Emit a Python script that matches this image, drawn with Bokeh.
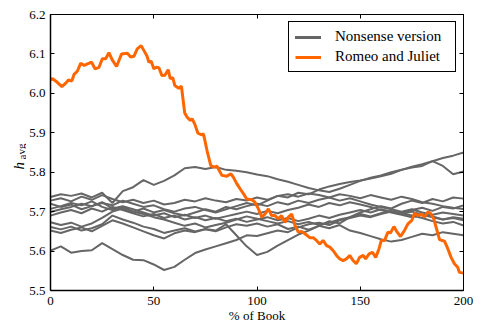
from bokeh.plotting import figure
from bokeh.layouts import row
from bokeh.models import LinearAxis, Range1d, FixedTicker, PrintfTickFormatter, Label
from bokeh.embed import file_html
from bokeh.resources import INLINE

# ---------------- data ----------------
x_nonsense = list(range(0, 201, 5))

nonsense_1 = [5.720, 5.712, 5.718, 5.706, 5.714, 5.722, 5.716, 5.728, 5.720, 5.712, 5.716,
              5.706, 5.700, 5.708, 5.712, 5.704, 5.698, 5.706, 5.714, 5.722, 5.716, 5.728,
              5.740, 5.736, 5.748, 5.744, 5.756, 5.764, 5.770, 5.775, 5.779, 5.784, 5.790,
              5.796, 5.806, 5.814, 5.820, 5.828, 5.836, 5.842, 5.850]
nonsense_2 = [5.737, 5.744, 5.740, 5.746, 5.736, 5.748, 5.722, 5.752, 5.762, 5.780, 5.768,
              5.778, 5.792, 5.810, 5.813, 5.808, 5.813, 5.806, 5.804, 5.800, 5.794, 5.790,
              5.782, 5.776, 5.768, 5.760, 5.754, 5.750, 5.758, 5.768, 5.778, 5.786, 5.792,
              5.800, 5.806, 5.812, 5.816, 5.828, 5.816, 5.795, 5.802]
nonsense_3 = [5.601, 5.612, 5.596, 5.600, 5.602, 5.620, 5.605, 5.590, 5.578, 5.577, 5.566,
              5.552, 5.560, 5.578, 5.595, 5.604, 5.612, 5.620, 5.628, 5.640, 5.638, 5.645,
              5.652, 5.648, 5.660, 5.668, 5.672, 5.666, 5.678, 5.684, 5.690, 5.686, 5.694,
              5.700, 5.696, 5.704, 5.710, 5.702, 5.712, 5.708, 5.716]
nonsense_4 = [5.661, 5.655, 5.662, 5.652, 5.658, 5.668, 5.690, 5.680, 5.672, 5.662, 5.656,
              5.646, 5.652, 5.658, 5.650, 5.656, 5.652, 5.668, 5.640, 5.612, 5.590, 5.598,
              5.614, 5.628, 5.642, 5.652, 5.664, 5.676, 5.670, 5.686, 5.698, 5.706, 5.714,
              5.708, 5.720, 5.728, 5.722, 5.732, 5.726, 5.736, 5.733]
nonsense_5 = [5.652, 5.646, 5.654, 5.660, 5.650, 5.664, 5.678, 5.670, 5.660, 5.650, 5.640,
              5.632, 5.645, 5.652, 5.648, 5.655, 5.650, 5.660, 5.668, 5.664, 5.670, 5.662,
              5.668, 5.656, 5.662, 5.654, 5.664, 5.658, 5.666, 5.652, 5.646, 5.638, 5.630,
              5.624, 5.628, 5.636, 5.644, 5.640, 5.648, 5.644, 5.640]
nonsense_6 = [5.728, 5.734, 5.726, 5.738, 5.730, 5.742, 5.732, 5.724, 5.730, 5.722, 5.728,
              5.718, 5.722, 5.730, 5.726, 5.734, 5.728, 5.724, 5.732, 5.728, 5.736, 5.730,
              5.740, 5.744, 5.738, 5.746, 5.742, 5.736, 5.744, 5.740, 5.734, 5.742, 5.736,
              5.730, 5.738, 5.732, 5.724, 5.720, 5.714, 5.710, 5.707]
nonsense_7 = [5.707, 5.714, 5.722, 5.716, 5.726, 5.712, 5.704, 5.712, 5.700, 5.708, 5.698,
              5.704, 5.696, 5.690, 5.698, 5.706, 5.700, 5.712, 5.706, 5.714, 5.720, 5.714,
              5.724, 5.718, 5.728, 5.722, 5.730, 5.736, 5.728, 5.734, 5.726, 5.718, 5.712,
              5.706, 5.700, 5.706, 5.698, 5.692, 5.698, 5.694, 5.690]
nonsense_8 = [5.699, 5.706, 5.712, 5.720, 5.714, 5.724, 5.708, 5.714, 5.706, 5.698, 5.690,
              5.696, 5.686, 5.692, 5.684, 5.690, 5.682, 5.688, 5.694, 5.700, 5.694, 5.702,
              5.696, 5.704, 5.710, 5.718, 5.712, 5.722, 5.716, 5.724, 5.718, 5.712, 5.704,
              5.698, 5.692, 5.686, 5.692, 5.688, 5.680, 5.686, 5.682]
nonsense_9 = [5.690, 5.698, 5.704, 5.696, 5.708, 5.700, 5.712, 5.704, 5.696, 5.688, 5.694,
              5.684, 5.690, 5.680, 5.686, 5.678, 5.684, 5.676, 5.682, 5.674, 5.680, 5.686,
              5.678, 5.684, 5.676, 5.682, 5.690, 5.684, 5.692, 5.698, 5.704, 5.698, 5.706,
              5.700, 5.694, 5.700, 5.692, 5.686, 5.680, 5.684, 5.678]
nonsense_10 = [5.673, 5.666, 5.672, 5.662, 5.670, 5.684, 5.700, 5.708, 5.700, 5.694, 5.686,
               5.680, 5.672, 5.664, 5.670, 5.660, 5.666, 5.672, 5.680, 5.688, 5.682, 5.676,
               5.670, 5.676, 5.668, 5.674, 5.666, 5.672, 5.680, 5.686, 5.694, 5.688, 5.696,
               5.702, 5.696, 5.690, 5.684, 5.676, 5.670, 5.674, 5.665]

nonsense_series = [nonsense_1, nonsense_2, nonsense_3, nonsense_4, nonsense_5,
                   nonsense_6, nonsense_7, nonsense_8, nonsense_9, nonsense_10]

x_romeo = [0, 1, 3.3, 5.5, 7.4, 8.7, 10.3, 11.4, 13, 14.6, 16.3, 19.9, 21.6, 23.5, 25.1,
           26.7, 28.3, 29.9, 32, 34.4, 37.2, 38.8, 40.4, 42, 43.9, 45.2, 46.8, 47.6, 48.7,
           50.1, 51.1, 52.5, 54, 55.4, 57, 58, 59.2, 60.2, 62.1, 63.4, 65, 66.1, 67.7, 68.5,
           69.8, 71.4, 73, 74.1, 75.8, 77.6, 79.3, 80.6, 83, 85.4, 87.4, 88.6, 90.2, 91.8,
           93.5, 95, 97.5, 99, 100.7, 102.3, 103.9, 105.5, 107.1, 108.7, 110.3, 111.9, 113.5,
           115.2, 116.8, 118.4, 120, 121.6, 123.2, 125.6, 127.2, 128.8, 130.4, 132, 133.7,
           135.3, 136.9, 138.5, 140.1, 141.7, 143.3, 144.9, 146.5, 148.1, 149.7, 151.4, 152.6,
           154.3, 155.9, 157.5, 159.1, 160.2, 161.8, 163.4, 164.6, 166.3, 167.9, 169.5, 171.4,
           173.1, 175, 176.3, 177.9, 179.5, 181.1, 182.7, 184, 185.6, 186.7, 188.4, 190.8,
           192.4, 194, 195.6, 197.2, 198, 200]
romeo = [6.035, 6.037, 6.028, 6.017, 6.026, 6.034, 6.031, 6.048, 6.056, 6.076, 6.071, 6.079,
         6.062, 6.066, 6.088, 6.088, 6.103, 6.085, 6.068, 6.100, 6.102, 6.092, 6.094, 6.113,
         6.121, 6.109, 6.094, 6.079, 6.082, 6.062, 6.066, 6.065, 6.045, 6.046, 6.060, 6.037,
         6.040, 6.020, 6.013, 6.018, 5.950, 5.940, 5.931, 5.936, 5.923, 5.899, 5.895, 5.897,
         5.855, 5.817, 5.813, 5.815, 5.792, 5.790, 5.796, 5.787, 5.771, 5.758, 5.745, 5.732,
         5.730, 5.724, 5.707, 5.686, 5.694, 5.707, 5.690, 5.690, 5.682, 5.690, 5.673, 5.686,
         5.694, 5.665, 5.648, 5.650, 5.644, 5.634, 5.634, 5.627, 5.618, 5.627, 5.614, 5.610,
         5.601, 5.589, 5.580, 5.576, 5.580, 5.589, 5.576, 5.568, 5.584, 5.589, 5.580, 5.593,
         5.597, 5.584, 5.606, 5.627, 5.627, 5.648, 5.646, 5.662, 5.648, 5.637, 5.652, 5.669,
         5.678, 5.696, 5.690, 5.694, 5.686, 5.699, 5.696, 5.682, 5.661, 5.629, 5.625, 5.606,
         5.584, 5.568, 5.559, 5.546, 5.544]

x_ticks = [0, 50, 100, 150, 200]
y_ticks = [5.5, 5.6, 5.7, 5.8, 5.9, 6.0, 6.1, 6.2]
x_label = "% of Book"
y_label_main = "h"
y_label_sub = "avg"
legend_labels = ["Nonsense version", "Romeo and Juliet"]

# ---------------- styling ----------------
FONT = "Times New Roman, Liberation Serif, serif"
GRAY = "#666666"
ORANGE = "#ff6600"
LABEL_W = 26
TOTAL_W, TOTAL_H = 481, 333
FRAME_BOTTOM = 290   # frames of the row are aligned: label strip shares this bottom

# narrow strip holding the y-axis label (h with subscript avg)
lab = figure(width=LABEL_W, height=TOTAL_H, output_backend="svg", toolbar_location=None,
             x_axis_location=None, y_axis_location=None, min_border=0,
             min_border_left=0, min_border_right=0, min_border_top=0, min_border_bottom=0,
             x_range=Range1d(0, 1), y_range=Range1d(0, 1),
             background_fill_color="white", border_fill_color="white")
lab.grid.visible = False
lab.outline_line_color = None
lab.add_layout(Label(x=18, y=FRAME_BOTTOM - 169, x_units="screen", y_units="screen",
                     text=y_label_main, text_font=FONT, text_font_size="15px",
                     text_font_style="italic", angle=1.5708, text_align="left",
                     text_baseline="alphabetic", text_color="black"))
lab.add_layout(Label(x=21, y=FRAME_BOTTOM - 159, x_units="screen", y_units="screen",
                     text=y_label_sub, text_font=FONT, text_font_size="11px",
                     angle=1.5708, text_align="left", text_baseline="alphabetic",
                     text_color="black"))

p = figure(width=TOTAL_W - LABEL_W, height=TOTAL_H, output_backend="svg",
           toolbar_location=None,
           x_range=Range1d(0, 200), y_range=Range1d(5.5, 6.2),
           min_border_left=48 - LABEL_W, min_border_right=18, min_border_top=14,
           min_border_bottom=TOTAL_H - FRAME_BOTTOM, background_fill_color="white",
           border_fill_color="white")
p.xgrid.visible = False
p.ygrid.visible = False
p.outline_line_color = "black"
p.outline_line_width = 1

for ys in nonsense_series:
    p.line(x_nonsense, ys, line_color=GRAY, line_width=2, legend_label=legend_labels[0])
p.line(x_romeo, romeo, line_color=ORANGE, line_width=3, legend_label=legend_labels[1])


def style_axis(ax, ticks, show_labels):
    ax.ticker = FixedTicker(ticks=ticks)
    ax.major_tick_in = 4
    ax.major_tick_out = 0
    ax.minor_tick_line_color = None
    ax.axis_line_color = "black"
    ax.major_tick_line_color = "black"
    if show_labels:
        ax.major_label_text_font = FONT
        ax.major_label_text_font_size = "13px"
        ax.major_label_text_color = "black"
        ax.major_label_standoff = 5
    else:
        ax.major_label_text_font_size = "0px"
        ax.major_label_text_color = None
        ax.major_label_standoff = 0


xa = p.xaxis[0]
ya = p.yaxis[0]
style_axis(xa, x_ticks, True)
style_axis(ya, y_ticks, True)
ya.formatter = PrintfTickFormatter(format="%.1f")
xa.axis_line_width = 1.5
ya.axis_line_width = 1.5
xa.major_label_standoff = 6

xa.axis_label = x_label
xa.axis_label_text_font = FONT
xa.axis_label_text_font_size = "13px"
xa.axis_label_text_font_style = "normal"
xa.axis_label_text_color = "black"
xa.axis_label_standoff = 0

top = LinearAxis()
style_axis(top, x_ticks, False)
p.add_layout(top, "above")
right = LinearAxis()
style_axis(right, y_ticks, False)
p.add_layout(right, "right")

lg = p.legend[0]
lg.location = "top_right"
lg.margin = 7
lg.padding = 6
lg.spacing = 3
lg.label_height = 16
lg.label_width = 114
lg.glyph_height = 16
lg.glyph_width = 26
lg.label_standoff = 14
lg.label_text_font = FONT
lg.label_text_font_size = "15px"
lg.label_text_color = "black"
lg.border_line_color = "black"
lg.border_line_width = 1
lg.border_line_alpha = 1
lg.background_fill_alpha = 1

layout = row(lab, p, spacing=0)
open("out.html", "w").write(file_html(layout, INLINE))
